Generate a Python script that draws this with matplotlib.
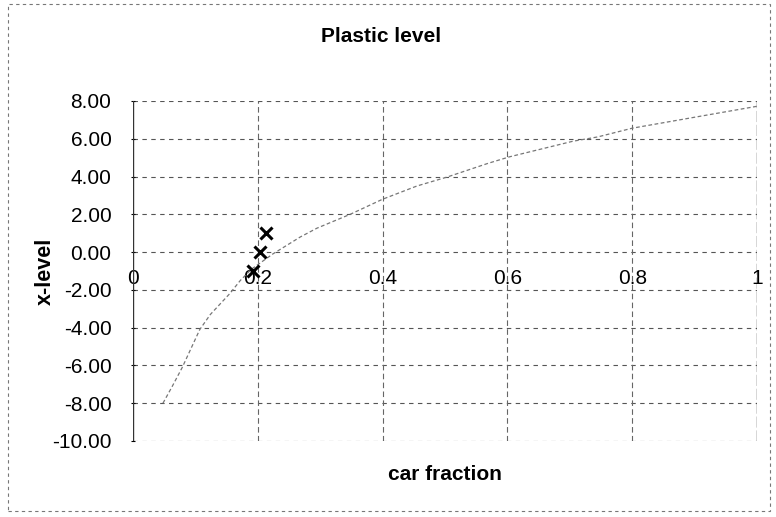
import matplotlib
matplotlib.use("Agg")
import matplotlib.pyplot as plt
from matplotlib.patches import Rectangle

plt.rcParams['font.family'] = ['Liberation Sans', 'DejaVu Sans']

# Curve (car fraction vs x-level)
curve_x = [0.048, 0.063, 0.079, 0.107, 0.124, 0.155, 0.172, 0.19, 0.224, 0.268, 0.295,
           0.348, 0.40, 0.455, 0.503, 0.569, 0.604, 0.705, 0.745, 0.80, 0.893, 1.0]
curve_y = [-8.0, -7.1, -6.1, -4.1, -3.3, -2.2, -1.5, -0.9, -0.1, 0.8, 1.27,
           2.0, 2.8, 3.5, 3.97, 4.7, 5.05, 5.87, 6.1, 6.56, 7.1, 7.72]

# Marked points
mark_x = [0.192, 0.204, 0.213]
mark_y = [-1.0, 0.0, 1.0]

xticks = [0, 0.2, 0.4, 0.6, 0.8, 1.0]
xticklabels = ['0', '0.2', '0.4', '0.6', '0.8', '1']
yticks = [8, 6, 4, 2, 0, -2, -4, -6, -8, -10]

W, H = 776, 517
fig = plt.figure(figsize=(W / 100, H / 100), dpi=100)
fig.patch.set_facecolor('white')

left, right, top, bottom = 133, 757, 101, 441
ax = fig.add_axes([left / W, 1 - bottom / H, (right - left) / W, (bottom - top) / H])
ax.set_xlim(0, 1)
ax.set_ylim(-10, 8)

# grid
for yt in yticks:
    ax.axhline(yt, color='#555555', lw=0.8, ls=(0, (4, 4)), zorder=1)
for xt in xticks[1:-1]:
    ax.axvline(xt, color='#666666', lw=0.8, ls=(0, (5, 3)), zorder=1)
ax.axvline(1.0, color='#333333', lw=1.0, ls=(0, (8, 2)), zorder=1)
ax.axvline(0.0, color='#333333', lw=1.0, zorder=2)

ax.plot(curve_x, curve_y, color='#777777', lw=0.9, ls=(0, (3, 2)), zorder=3)
ax.plot(mark_x, mark_y, ls='none', marker='x', color='black', ms=8, mew=2.2, zorder=4)

for s in ['top', 'right', 'left']:
    ax.spines[s].set_visible(False)
ax.spines['bottom'].set_position(('data', 0))
ax.spines['bottom'].set_visible(False)

ax.set_xticks(xticks)
ax.set_xticklabels(xticklabels)
ax.set_yticks(yticks)
ax.set_yticklabels([f"{v:.2f}" for v in yticks])
ax.tick_params(axis='x', length=0, pad=12, labelsize=15)
ax.tick_params(axis='y', length=3, direction='inout', pad=14, labelsize=15)

ax.set_xlabel('car fraction', fontsize=15, fontweight='bold')
ax.xaxis.set_label_coords(0.5, -0.07)
ax.set_ylabel('x-level', fontsize=15.5, fontweight='bold')
ax.yaxis.set_label_coords(-0.123, 0.5)

fig.text(381 / W, 1 - 37 / H, 'Plastic level', ha='center', va='center',
         fontsize=15, fontweight='bold')

# chart area border
fig.patches.append(Rectangle((8 / W, 6 / H), (W - 14) / W, (H - 10) / H,
                             transform=fig.transFigure, fill=False,
                             edgecolor='#777777', lw=0.8, ls=(0, (3, 3))))

fig.savefig('out.png', dpi=100)
